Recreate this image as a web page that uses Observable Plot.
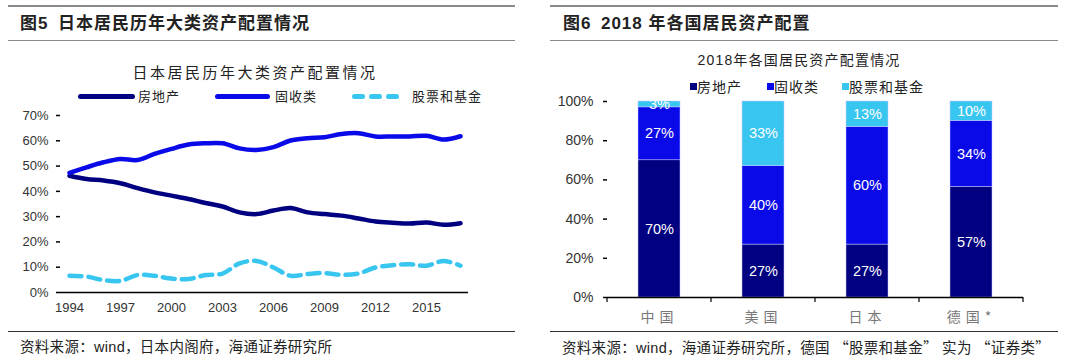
<!DOCTYPE html>
<html><head><meta charset="utf-8">
<script src="https://cdn.jsdelivr.net/npm/d3@7"></script>
<script src="https://cdn.jsdelivr.net/npm/@observablehq/plot@0.6"></script>
<style>
body{margin:0;background:#fff;width:1080px;height:359px;position:relative;overflow:hidden;font-family:"Liberation Sans",Arial,"Noto Sans CJK SC",sans-serif;}
.a{position:absolute;white-space:nowrap;}
.rule{position:absolute;height:0;}
.title{font-size:17px;font-weight:bold;color:#222;letter-spacing:1px;line-height:22px;}
.sub{font-size:15px;color:#222;line-height:20px;text-align:center;letter-spacing:2.5px;font-family:"Liberation Sans","Noto Sans CJK SC",sans-serif;}
.leg{font-size:13px;color:#222;line-height:16px;letter-spacing:1px;}
.src{font-size:14.5px;color:#222;line-height:18px;letter-spacing:0.3px;}
.q{font-family:"Noto Sans CJK SC",sans-serif;}
.ln{position:absolute;height:5px;border-radius:3px;}
.sq{position:absolute;width:7px;height:7px;}
g[aria-label="x-axis tick label"].cjk text{letter-spacing:5px;}
</style></head><body>
<script>
// ---------- data: left chart ----------
const years = [1994,1995,1996,1997,1998,1999,2000,2001,2002,2003,2004,2005,2006,2007,2008,2009,2010,2011,2012,2013,2014,2015,2016,2017];
const realEstate = [46.2,44.9,44.3,43.2,41.3,39.6,38.3,37.0,35.4,34.0,31.7,31.0,32.4,33.4,31.7,31.0,30.4,29.3,28.1,27.6,27.3,27.7,26.8,27.4];
const fixedIncome = [47.3,49.5,51.5,52.8,52.4,54.8,56.8,58.5,59.0,59.0,57.0,56.4,57.5,60.1,61.0,61.4,62.7,63.0,61.7,61.7,61.7,62.0,60.5,61.8];
const equityFunds = [6.6,6.3,4.9,4.6,6.9,6.6,5.5,5.3,6.9,7.5,11.5,12.5,9.9,6.6,7.3,7.7,7.0,7.5,9.9,10.8,11.2,10.6,12.5,10.6];
const lineSeries = ["房地产","固收类","股票和基金"];
const xTickYears = [1994,1997,2000,2003,2006,2009,2012,2015];
const yTicksLeft = [0,0.1,0.2,0.3,0.4,0.5,0.6,0.7];

// ---------- data: right chart ----------
const countries = ["中国","美国","日本","德国*"];
const barSeries = ["房地产","固收类","股票和基金"];
const realEstate2018 = [70,27,27,57];
const fixedIncome2018 = [27,40,60,34];
const equity2018 = [3,33,13,10];
const yTicksRight = [0,0.2,0.4,0.6,0.8,1];

const colors = ["#000080","#0a0ae8","#38c6f0"];

// ---------- page layout ----------
const page = document.body;
function div(cls, style, text, html){const d=document.createElement("div");d.className=cls;Object.assign(d.style,style);if(html)d.innerHTML=html;else if(text!=null)d.textContent=text;page.appendChild(d);return d;}

// rules
div("rule",{left:"8px",top:"5px",width:"507px",borderTop:"2px solid #8a8a8a"});
div("rule",{left:"8px",top:"40px",width:"507px",borderTop:"1.5px solid #8a8a8a"});
div("rule",{left:"8px",top:"331px",width:"507px",borderTop:"1.5px solid #333"});
div("rule",{left:"550px",top:"5px",width:"508px",borderTop:"2px solid #8a8a8a"});
div("rule",{left:"550px",top:"40px",width:"508px",borderTop:"1.5px solid #8a8a8a"});
div("rule",{left:"550px",top:"331px",width:"508px",borderTop:"1.5px solid #333"});

// titles
div("a title",{left:"20px",top:"13px"},"图5\u2002日本居民历年大类资产配置情况");
div("a title",{left:"563px",top:"13px"},"图6\u20022018 年各国居民资产配置");
div("a sub",{left:"0px",top:"63px",width:"510px"},"日本居民历年大类资产配置情况");
div("a sub",{left:"540px",top:"50px",width:"518px",fontSize:"14px",letterSpacing:"1.2px"},"2018年各国居民资产配置情况");

// left legend
div("ln",{left:"78px",top:"94px",width:"57px",background:colors[0]});
div("a leg",{left:"138px",top:"89px"},lineSeries[0]);
div("ln",{left:"215px",top:"94px",width:"55px",background:colors[1]});
div("a leg",{left:"275px",top:"89px"},lineSeries[1]);
for(let i=0;i<3;i++) div("ln",{left:(352+i*17)+"px",top:"94px",width:"13px",background:colors[2]});
div("a leg",{left:"412px",top:"89px"},lineSeries[2]);

// right legend
const rl=[690,767,842];
barSeries.forEach((s,i)=>{div("sq",{left:rl[i]+"px",top:"83px",background:colors[i]});div("a leg",{left:(rl[i]+7)+"px",top:"79px",fontSize:"14px"},s);});

// sources
div("a src",{left:"20px",top:"338px"},"资料来源：wind，日本内阁府，海通证券研究所");
div("a src",{left:"562px",top:"338px"},null,"资料来源：wind，海通证券研究所，德国 <span class='q'>“</span>股票和基金<span class='q'>”</span> 实为 <span class='q'>“</span>证券类<span class='q'>”</span>");

// ---------- left plot ----------
const lineRows = [];
[realEstate, fixedIncome, equityFunds].forEach((arr, si) => arr.forEach((v, i) => lineRows.push({year: years[i], value: v/100, series: lineSeries[si]})));

const leftPlot = Plot.plot({
  width: 540, height: 215,
  marginLeft: 60, marginRight: 72, marginTop: 10, marginBottom: 28,
  style: {fontFamily: "Liberation Sans, Arial, sans-serif", fontSize: "13px", color: "#333", background: "transparent"},
  x: {type: "point", domain: years, padding: 0.5},
  y: {domain: [0, 0.7]},
  color: {domain: lineSeries, range: colors},
  marks: [
    Plot.axisX({ticks: xTickYears, tickSize: 0, tickPadding: 10, tickFormat: d => String(d), label: null, fontSize: 13}),
    Plot.axisY({ticks: yTicksLeft, tickSize: 4, tickPadding: 8, tickFormat: d3.format(".0%"), label: null, line: true, stroke: "#000", strokeWidth: 1.5, fontSize: 13}),
    Plot.line(lineRows.filter(d => d.series !== lineSeries[2]), {x: "year", y: "value", z: "series", stroke: "series", strokeWidth: 4.5, curve: "catmull-rom"}),
    Plot.line(lineRows.filter(d => d.series === lineSeries[2]), {x: "year", y: "value", stroke: "series", strokeWidth: 4.5, strokeDasharray: "12,7", curve: "catmull-rom"}),
    Plot.ruleY([0], {stroke: "#000", strokeWidth: 1.5})
  ]
});
Object.assign(leftPlot.style, {position: "absolute", left: "0px", top: "105px"});
page.appendChild(leftPlot);

// ---------- right plot ----------
const barRows = [];
[realEstate2018, fixedIncome2018, equity2018].forEach((arr, si) => arr.forEach((v, i) => barRows.push({country: countries[i], value: v, series: barSeries[si]})));

function boundaryTicks(index, scales, values, dims) {
  const x = scales.x;
  const bw = typeof x.bandwidth === "function" ? x.bandwidth() : x.bandwidth;
  const step = typeof x.step === "function" ? x.step() : x.step;
  const g = d3.create("svg:g").attr("stroke", "#000").attr("stroke-width", 1.2);
  const yb = dims.height - dims.marginBottom;
  const xs = [x(countries[0]) - (step - bw) / 2, ...countries.map(c => x(c) + bw + (step - bw) / 2)];
  xs.forEach(px => g.append("line").attr("x1", px).attr("x2", px).attr("y1", yb).attr("y2", yb + 5));
  return g.node();
}

const rightPlot = Plot.plot({
  width: 540, height: 240,
  marginLeft: 67, marginRight: 57, marginTop: 9, marginBottom: 35,
  style: {fontFamily: "Liberation Sans, Arial, sans-serif", fontSize: "14px", color: "#333", background: "transparent"},
  x: {domain: countries, padding: 0.6, paddingOuter: 0.3},
  y: {domain: [0, 1]},
  color: {domain: barSeries, range: colors},
  marks: [
    Plot.barY(barRows, Plot.stackY({x: "country", y: "value", fill: "series", offset: "normalize", stroke: "#c8c8ff", strokeWidth: 0.5})),
    Plot.text(barRows, Plot.stackY({x: "country", y: "value", z: "series", offset: "normalize", text: d => d.value + "%", fill: "white", fontSize: 14.5})),
    Plot.axisX({tickSize: 0, tickPadding: 15, label: null, fontSize: 14, fill: "#777", fontFamily: "Noto Sans CJK SC, sans-serif"}),
    Plot.axisY({ticks: yTicksRight, tickSize: 4, tickPadding: 10, tickFormat: d3.format(".0%"), label: null, line: true, stroke: "#000", strokeWidth: 1.5, fontSize: 14}),
    Plot.ruleY([0], {stroke: "#000", strokeWidth: 1.5}),
    boundaryTicks
  ]
});
Object.assign(rightPlot.style, {position: "absolute", left: "540px", top: "92px"});
rightPlot.querySelectorAll('g[aria-label="x-axis tick label"]').forEach(g => g.classList.add("cjk"));
page.appendChild(rightPlot);
</script>
</body></html>
